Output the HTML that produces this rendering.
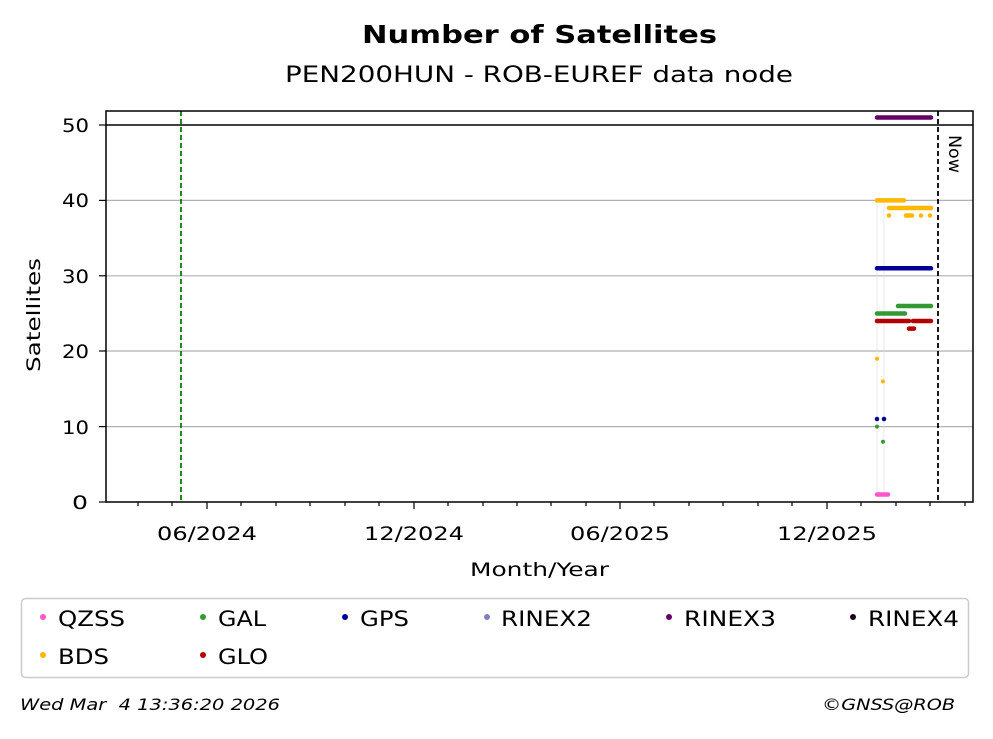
<!DOCTYPE html>
<html><head><meta charset="utf-8"><style>
body{margin:0;background:#fff;}
svg text{font-family:"DejaVu Sans","Liberation Sans",sans-serif;}
</style></head><body>
<svg width="993" height="734" xmlns="http://www.w3.org/2000/svg">
<rect width="993" height="734" fill="#fff"/>
<text x="362" y="43" font-size="25" font-weight="bold" textLength="355" lengthAdjust="spacingAndGlyphs">Number of Satellites</text>
<text x="285" y="82" font-size="22" textLength="508" lengthAdjust="spacingAndGlyphs">PEN200HUN - ROB-EUREF data node</text>
<g stroke="#b0b0b0" stroke-width="1.2">
<line x1="106" x2="973" y1="426.6" y2="426.6"/>
<line x1="106" x2="973" y1="351" y2="351"/>
<line x1="106" x2="973" y1="275.8" y2="275.8"/>
<line x1="106" x2="973" y1="200.4" y2="200.4"/>
</g>
<line x1="106" x2="973" y1="125" y2="125" stroke="#000" stroke-width="1.5"/>
<line x1="181" x2="181" y1="111" y2="502" stroke="#008000" stroke-width="1.8" stroke-dasharray="5,3"/>
<line x1="938" x2="938" y1="111" y2="502" stroke="#000" stroke-width="1.8" stroke-dasharray="5,3"/>
<text transform="translate(949,135) rotate(90)" font-size="17" textLength="38" lengthAdjust="spacingAndGlyphs">Now</text>
<g stroke="#ddd" stroke-width="0.6">
<line x1="877" x2="877" y1="200" y2="495"/>
<line x1="884" x2="884" y1="200" y2="495"/>
</g>
<g stroke-linecap="round" stroke-width="4.5" fill="none">
<line x1="877" x2="931" y1="117.5" y2="117.5" stroke="#660066"/>
<line x1="877" x2="904" y1="200.4" y2="200.4" stroke="#ffb800"/>
<line x1="889" x2="931" y1="208" y2="208" stroke="#ffb800"/>
<line x1="889" x2="889" y1="215.5" y2="215.5" stroke="#ffb800"/>
<line x1="906" x2="912" y1="215.5" y2="215.5" stroke="#ffb800"/>
<line x1="921" x2="921" y1="215.5" y2="215.5" stroke="#ffb800"/>
<line x1="930" x2="930" y1="215.5" y2="215.5" stroke="#ffb800"/>
<line x1="877" x2="931" y1="268.3" y2="268.3" stroke="#000099"/>
<line x1="898" x2="931" y1="306" y2="306" stroke="#339933"/>
<line x1="877" x2="905" y1="313.5" y2="313.5" stroke="#339933"/>
<line x1="877" x2="909" y1="321" y2="321" stroke="#b30000"/>
<line x1="913" x2="931" y1="321" y2="321" stroke="#b30000"/>
<line x1="909" x2="914" y1="328.6" y2="328.6" stroke="#b30000"/>
<line x1="877" x2="877" y1="358.7" y2="358.7" stroke="#ffb800" stroke-width="4"/>
<line x1="883" x2="883" y1="381.4" y2="381.4" stroke="#ffb800" stroke-width="4"/>
<line x1="877" x2="877" y1="419" y2="419" stroke="#000099"/>
<line x1="884" x2="884" y1="419" y2="419" stroke="#000099"/>
<line x1="877" x2="877" y1="426.6" y2="426.6" stroke="#339933" stroke-width="4"/>
<line x1="883" x2="883" y1="441.7" y2="441.7" stroke="#339933" stroke-width="4"/>
<line x1="877" x2="888" y1="494.5" y2="494.5" stroke="#ff55cc"/>
</g>
<rect x="106" y="111" width="867" height="391" fill="none" stroke="#000" stroke-width="1.5"/>
<g stroke="#000" stroke-width="1.2">
<line x1="207" x2="207" y1="502" y2="509"/>
<line x1="414" x2="414" y1="502" y2="509"/>
<line x1="620" x2="620" y1="502" y2="509"/>
<line x1="827" x2="827" y1="502" y2="509"/>
<line x1="138" x2="138" y1="502" y2="506"/><line x1="172" x2="172" y1="502" y2="506"/>
<line x1="241" x2="241" y1="502" y2="506"/><line x1="276" x2="276" y1="502" y2="506"/>
<line x1="310" x2="310" y1="502" y2="506"/><line x1="345" x2="345" y1="502" y2="506"/>
<line x1="379" x2="379" y1="502" y2="506"/><line x1="448" x2="448" y1="502" y2="506"/>
<line x1="483" x2="483" y1="502" y2="506"/><line x1="517" x2="517" y1="502" y2="506"/>
<line x1="551" x2="551" y1="502" y2="506"/><line x1="586" x2="586" y1="502" y2="506"/>
<line x1="654" x2="654" y1="502" y2="506"/><line x1="689" x2="689" y1="502" y2="506"/>
<line x1="723" x2="723" y1="502" y2="506"/><line x1="758" x2="758" y1="502" y2="506"/>
<line x1="792" x2="792" y1="502" y2="506"/><line x1="861" x2="861" y1="502" y2="506"/>
<line x1="896" x2="896" y1="502" y2="506"/><line x1="930" x2="930" y1="502" y2="506"/>
<line x1="965" x2="965" y1="502" y2="506"/>
<line x1="99" x2="106" y1="502" y2="502"/><line x1="99" x2="106" y1="426.6" y2="426.6"/>
<line x1="99" x2="106" y1="351" y2="351"/><line x1="99" x2="106" y1="275.8" y2="275.8"/>
<line x1="99" x2="106" y1="200.4" y2="200.4"/><line x1="99" x2="106" y1="125" y2="125"/>
</g>
<g font-size="19">
<text x="72" y="509" textLength="16" lengthAdjust="spacingAndGlyphs">0</text>
<text x="62" y="434" textLength="27" lengthAdjust="spacingAndGlyphs">10</text>
<text x="62" y="358" textLength="27" lengthAdjust="spacingAndGlyphs">20</text>
<text x="62" y="283" textLength="27" lengthAdjust="spacingAndGlyphs">30</text>
<text x="62" y="207" textLength="27" lengthAdjust="spacingAndGlyphs">40</text>
<text x="62" y="132" textLength="27" lengthAdjust="spacingAndGlyphs">50</text>
</g>
<g font-size="19">
<text x="157" y="540" textLength="100" lengthAdjust="spacingAndGlyphs">06/2024</text>
<text x="364" y="540" textLength="100" lengthAdjust="spacingAndGlyphs">12/2024</text>
<text x="570" y="540" textLength="100" lengthAdjust="spacingAndGlyphs">06/2025</text>
<text x="777" y="540" textLength="100" lengthAdjust="spacingAndGlyphs">12/2025</text>
</g>
<text x="470" y="576" font-size="19" textLength="139" lengthAdjust="spacingAndGlyphs">Month/Year</text>
<text transform="translate(40,372) rotate(-90)" font-size="19" textLength="114" lengthAdjust="spacingAndGlyphs">Satellites</text>
<rect x="21.5" y="598.5" width="947" height="79" rx="4" fill="#fff" stroke="#ccc" stroke-width="1.5"/>
<g font-size="21">
<circle cx="43" cy="617" r="3" fill="#ff55cc"/><text x="58" y="626" textLength="67" lengthAdjust="spacingAndGlyphs">QZSS</text>
<circle cx="203" cy="617" r="3" fill="#339933"/><text x="218" y="626" textLength="48" lengthAdjust="spacingAndGlyphs">GAL</text>
<circle cx="345" cy="617" r="3" fill="#000099"/><text x="360" y="626" textLength="49" lengthAdjust="spacingAndGlyphs">GPS</text>
<circle cx="487" cy="617" r="3" fill="#8080bf"/><text x="501" y="626" textLength="91" lengthAdjust="spacingAndGlyphs">RINEX2</text>
<circle cx="669" cy="617" r="3" fill="#660066"/><text x="684" y="626" textLength="92" lengthAdjust="spacingAndGlyphs">RINEX3</text>
<circle cx="853" cy="617" r="3" fill="#1a001a"/><text x="868" y="626" textLength="91" lengthAdjust="spacingAndGlyphs">RINEX4</text>
<circle cx="43" cy="655" r="3" fill="#ffb800"/><text x="58" y="664" textLength="51" lengthAdjust="spacingAndGlyphs">BDS</text>
<circle cx="203" cy="655" r="3" fill="#b30000"/><text x="218" y="664" textLength="50" lengthAdjust="spacingAndGlyphs">GLO</text>
</g>
<text x="20" y="710" font-size="16" font-style="italic" textLength="260" lengthAdjust="spacingAndGlyphs" xml:space="preserve">Wed Mar  4 13:36:20 2026</text>
<text x="822" y="710" font-size="16" font-style="italic" textLength="133" lengthAdjust="spacingAndGlyphs">©GNSS@ROB</text>
</svg>
</body></html>
